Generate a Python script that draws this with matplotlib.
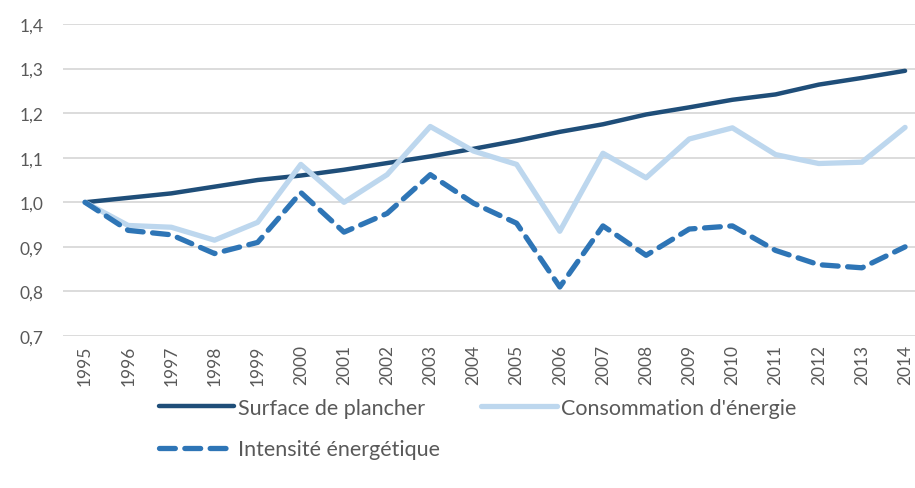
import matplotlib.pyplot as plt

plt.rcParams['font.family'] = ['Lato', 'DejaVu Sans']

years = [str(y) for y in range(1995, 2015)]
surface = [1.000, 1.010, 1.020, 1.035, 1.050, 1.060, 1.073, 1.088, 1.103, 1.120,
           1.138, 1.158, 1.175, 1.197, 1.213, 1.230, 1.242, 1.264, 1.279, 1.295]
consommation = [1.000, 0.948, 0.944, 0.915, 0.955, 1.085, 1.000, 1.062, 1.170, 1.115,
                1.085, 0.935, 1.110, 1.055, 1.142, 1.167, 1.107, 1.087, 1.090, 1.168]
intensite = [1.000, 0.937, 0.927, 0.885, 0.910, 1.022, 0.933, 0.975, 1.062, 0.998,
             0.953, 0.810, 0.947, 0.881, 0.940, 0.947, 0.892, 0.860, 0.853, 0.900]
yticks = [0.7, 0.8, 0.9, 1.0, 1.1, 1.2, 1.3, 1.4]

grey = '#595959'

fig = plt.figure(figsize=(9.15, 4.89), dpi=100)
ax = fig.add_axes([63 / 915, 1 - 337 / 489, 852 / 915, 312 / 489])

x = list(range(len(years)))
l1, = ax.plot(x, surface, color='#1F4E79', lw=3.2, solid_capstyle='round',
              label='Surface de plancher', zorder=3)
l2, = ax.plot(x, consommation, color='#BDD7EE', lw=3.8, solid_capstyle='round',
              label="Consommation d'énergie", zorder=3)
l3, = ax.plot(x, intensite, color='#2E75B6', lw=3.8, dashes=(3.0, 1.8),
              dash_capstyle='round', label='Intensité énergétique', zorder=4)

ax.set_xlim(-0.51, 19.23)
ax.set_ylim(0.7, 1.4)
ax.set_yticks(yticks)
ax.set_yticklabels([f'{v:.1f}'.replace('.', ',') for v in yticks],
                   fontsize=12.5, color=grey)
ax.set_xticks(x)
ax.set_xticklabels(years, rotation=90, fontsize=12.5, color=grey)
ax.tick_params(axis='both', length=0)
ax.tick_params(axis='y', pad=14)
ax.tick_params(axis='x', pad=6)
ax.grid(axis='y', color='#D9D9D9', lw=1.3)
ax.set_axisbelow(True)
for s in ax.spines.values():
    s.set_visible(False)

# ordre colonne par colonne pour obtenir la disposition en lignes
fig.legend([l1, l3, l2], [l1.get_label(), l3.get_label(), l2.get_label()],
           loc='upper left', bbox_to_anchor=(148 / 915, 1 - 388 / 489),
           ncol=2, frameon=False, fontsize=15.5, labelcolor=grey,
           handlelength=3.5, handletextpad=0.2, columnspacing=1.9,
           labelspacing=1.0, borderpad=0)

fig.savefig('out.png', dpi=100)
